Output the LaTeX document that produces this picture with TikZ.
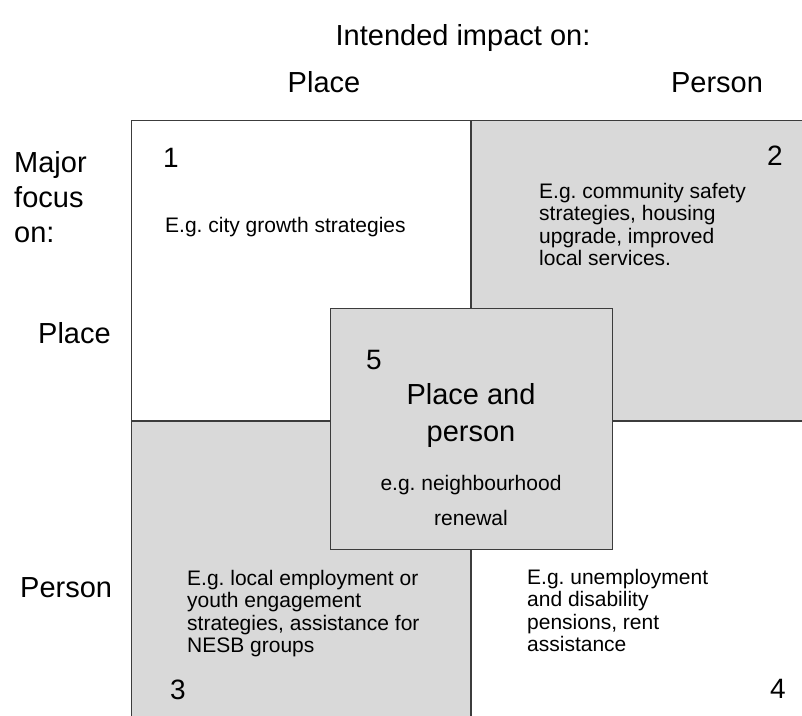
\documentclass[tikz,border=0pt]{standalone}
\usepackage{fontspec}
\setmainfont{Liberation Sans}
\usetikzlibrary{positioning}

\definecolor{cellgray}{RGB}{217,217,217}
\definecolor{rulegray}{RGB}{60,60,60}

\tikzset{
	cell/.style={draw=rulegray, line width=1.2pt, anchor=north west, inner sep=0pt},
	graycell/.style={cell, fill=cellgray},
	head/.style={font=\fontsize{29}{35}\selectfont, inner sep=0pt},
	note/.style={font=\fontsize{21}{22.5}\selectfont, align=left, anchor=north west, inner sep=0pt},
	num/.style={font=\fontsize{28}{28}\selectfont, anchor=base, inner sep=0pt},
}
\frenchspacing

\begin{document}
\begin{tikzpicture}[x=1pt, y=-1pt]

\useasboundingbox (0,0) rectangle (802,715);
\clip (0,0) rectangle (802,715);

%\draw[step=50, color=gray!40] (0,0) grid (802,715);

% the four cells
\node[cell, minimum width=339pt, minimum height=300pt] (q1) at (131,120) {};
\node[graycell, minimum width=360pt, minimum height=300pt] (q2) at (q1.north east) {};
\node[graycell, minimum width=339pt, minimum height=330pt] (q3) at (q1.south west) {};
\node[cell, minimum width=360pt, minimum height=330pt] (q4) at (q1.south east) {};

% the middle box
\node[graycell, minimum width=282pt, minimum height=241pt] (box5) at (330,308) {};

% headings
\node[head, anchor=base] (lblIntended) at (463,45) {Intended impact on:};
\node[head, anchor=base] (lblPlaceTop) at (324,92) {Place};
\node[head, anchor=base] (lblPersonTop) at (717,92) {Person};

\node[head, anchor=base west, align=left] (lblMajor) at (14,242) {Major\\focus\\on:};
\node[head, anchor=base west] (lblPlaceSide) at (38,343) {Place};
\node[head, anchor=base west] (lblPersonSide) at (20,597) {Person};

% numbers
\node[num] (n1) at (171,167) {1};
\node[num] (n2) at (775,165) {2};
\node[num] (n3) at (178,699) {3};
\node[num] (n4) at (778,698) {4};
\node[num] (n5) at (374,369) {5};

% examples
\node[note] (eg1) at (165,217) {E.g. city growth strategies};
\node[note] (eg2) at (539,183) {E.g. community safety\\strategies, housing\\upgrade, improved\\local services.};
\node[note] (eg3) at (187,570) {E.g. local employment or\\youth engagement\\strategies, assistance for\\NESB groups};
\node[note] (eg4) at (527,569) {E.g. unemployment\\and disability\\pensions, rent\\assistance};

\node[head, anchor=north, align=center, font=\fontsize{29}{37}\selectfont] (title5) at (471,383) {Place and\\person};
\node[note, anchor=north, align=center, font=\fontsize{21}{35}\selectfont] (eg5) at (471,475) {e.g. neighbourhood\\renewal};

\end{tikzpicture}
\end{document}
